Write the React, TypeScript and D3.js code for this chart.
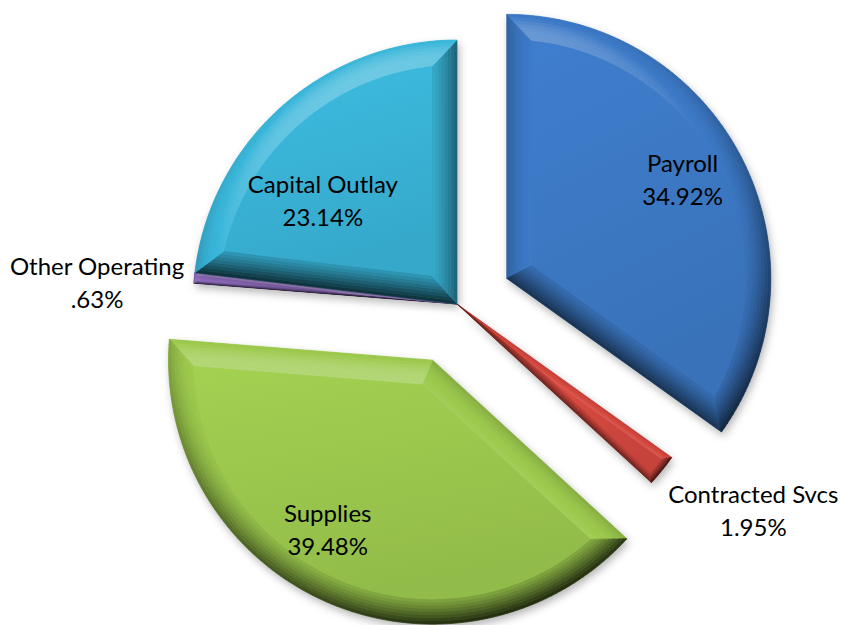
import React from 'react';
import * as d3 from 'd3';

const categories = ['Payroll', 'Contracted Svcs', 'Supplies', 'Other Operating', 'Capital Outlay'];
const shares = [34.92, 1.95, 39.48, 0.63, 23.14];
const shareLabels = ['34.92%', '1.95%', '39.48%', '.63%', '23.14%'];

const colors = ['#3D7AC7', '#D4483F', '#9DCA4E', '#9470C4', '#3AB6DA'];
// how far each slice is pulled out, as a fraction of the radius
const explode = [0.212, 0, 0.232, 0, 0];
// label spot: [fraction across the slice angle, fraction of radius] measured from the slice tip
const labelAt = [[0.482, 0.765], [-0.1, 1.368], [0.558, 0.754], [-0.48, 1.366], [0.374, 0.644]];

const W = 841, H = 625;
const cx = 457, cy = 304, R = 264, BEVEL = 25, BANDS = 8;
const FONT = 'Lato, "Open Sans", sans-serif';
const FONT_SIZE = 24, LINE = 33;

const dir = (t: number): [number, number] => [Math.sin(t), -Math.cos(t)];
const L3 = (() => { const v = [-0.2, -0.6, 0.78]; const l = Math.hypot(v[0], v[1], v[2]); return v.map(x => x / l); })();

// rounded bevel: surface tilts from steep at the rim to fairly flat at the inner edge
function shade(base: string, n: [number, number], u: number) {
  const alpha = (10 + 52 * u) * Math.PI / 180;
  const c = Math.cos(alpha);
  const b = n[0] * c * L3[0] + n[1] * c * L3[1] + Math.sin(alpha) * L3[2];
  const diff = b - L3[2];
  return diff > 0
    ? d3.interpolateRgb(base, '#ffffff')(Math.min(1, diff * 1.2))
    : d3.interpolateRgb(base, '#000000')(Math.min(0.85, Math.pow(-diff, 1.3) * 0.6));
}

function wrap(a: number) {
  while (a > Math.PI) a -= 2 * Math.PI;
  while (a < -Math.PI) a += 2 * Math.PI;
  return a;
}

const lerp = (p: number[], q: number[], u: number) => [p[0] + (q[0] - p[0]) * u, p[1] + (q[1] - p[1]) * u];
const poly = (pts: number[][]) => 'M' + pts.map(p => p[0].toFixed(2) + ',' + p[1].toFixed(2)).join('L') + 'Z';

function Slice({ a0, a1, ax, ay, color, id }: any) {
  const h = (a1 - a0) / 2, mid = a0 + h;
  const w = Math.min(BEVEL, R * Math.sin(h) * 0.45);
  const s = w / Math.sin(h);
  const [ux, uy] = dir(mid);
  const ix = ax + ux * s, iy = ay + uy * s;
  const r2 = R - w;
  const t = -s * Math.cos(h) + Math.sqrt(r2 * r2 - w * w);
  const d0 = dir(a0), d1 = dir(a1);
  const A = [ax, ay], Ai = [ix, iy];
  const p0 = [ax + R * d0[0], ay + R * d0[1]];
  const p1 = [ax + R * d1[0], ay + R * d1[1]];
  const q0 = [ix + t * d0[0], iy + t * d0[1]];
  const q1 = [ix + t * d1[0], iy + t * d1[1]];
  const phi0 = a0 + wrap(Math.atan2(q0[0] - ax, -(q0[1] - ay)) - a0);
  const phi1 = a1 + wrap(Math.atan2(q1[0] - ax, -(q1[1] - ay)) - a1);

  const outer = d3.arc<any>().innerRadius(0).outerRadius(R)({ startAngle: a0, endAngle: a1 } as any) || '';

  const face = d3.path();
  face.moveTo(ix, iy);
  face.lineTo(q0[0], q0[1]);
  face.arc(ax, ay, r2, phi0 - Math.PI / 2, phi1 - Math.PI / 2, false);
  face.closePath();

  const facets: { d: string; fill: string }[] = [];
  const edge = (P: number[], Q: number[], nrm: [number, number]) => {
    for (let b = 0; b < BANDS; b++) {
      const u0 = b / BANDS, u1 = (b + 1) / BANDS;
      facets.push({
        d: poly([lerp(A, Ai, u0), lerp(P, Q, u0), lerp(P, Q, u1), lerp(A, Ai, u1)]),
        fill: shade(color, nrm, (u0 + u1) / 2),
      });
    }
  };
  edge(p0, q0, dir(a0 - Math.PI / 2));
  edge(p1, q1, dir(a1 + Math.PI / 2));
  const n = Math.max(4, Math.ceil((a1 - a0) / 0.02));
  for (let k = 0; k < n; k++) {
    const ta = a0 + (a1 - a0) * k / n, tb = a0 + (a1 - a0) * (k + 1) / n;
    const fa = phi0 + (phi1 - phi0) * k / n, fb = phi0 + (phi1 - phi0) * (k + 1) / n;
    const oa = dir(ta), ob = dir(tb), ia = dir(fa), ib = dir(fb);
    const Oa = [ax + R * oa[0], ay + R * oa[1]], Ob = [ax + R * ob[0], ay + R * ob[1]];
    const Ia = [ax + r2 * ia[0], ay + r2 * ia[1]], Ib = [ax + r2 * ib[0], ay + r2 * ib[1]];
    for (let b = 0; b < BANDS; b++) {
      const u0 = b / BANDS, u1 = (b + 1) / BANDS;
      facets.push({
        d: poly([lerp(Oa, Ia, u0), lerp(Ob, Ib, u0), lerp(Ob, Ib, u1), lerp(Oa, Ia, u1)]),
        fill: shade(color, dir((ta + tb) / 2), (u0 + u1) / 2),
      });
    }
  }

  return (
    <g>
      <path d={outer} transform={`translate(${ax},${ay})`} fill={color} filter="url(#shadow)" />
      {facets.map((f, i) => (
        <path key={i} d={f.d} fill={f.fill} stroke={f.fill} strokeWidth={0.7} strokeLinejoin="round" />
      ))}
      <path d={face.toString()} fill={`url(#face${id})`} />
    </g>
  );
}

export default function App() {
  const pie = d3.pie<number>().sort(null).value(d => d);
  const arcs = pie(shares);

  const slices = arcs.map((a, i) => {
    const [ux, uy] = dir((a.startAngle + a.endAngle) / 2);
    const off = explode[i] * R;
    return { a0: a.startAngle, a1: a.endAngle, ax: cx + ux * off, ay: cy + uy * off };
  });

  return (
    <svg width={W} height={H} style={{ position: 'absolute', left: 0, top: 0 }} fontFamily={FONT}>
      <defs>
        <filter id="shadow" x="-20%" y="-20%" width="140%" height="140%">
          <feDropShadow dx="2" dy="4" stdDeviation="4" floodColor="#000" floodOpacity="0.3" />
        </filter>
        {colors.map((c, i) => (
          <linearGradient key={i} id={`face${i}`} x1="0" y1="0" x2="0.3" y2="1">
            <stop offset="0" stopColor={d3.color(c)!.brighter(0.1).formatHex()} />
            <stop offset="1" stopColor={d3.color(c)!.darker(0.2).formatHex()} />
          </linearGradient>
        ))}
      </defs>
      <rect width={W} height={H} fill="#fff" />
      {slices.map((s, i) => (
        <Slice key={categories[i]} {...s} color={colors[i]} id={i} />
      ))}
      {slices.map((s, i) => {
        const ang = s.a0 + labelAt[i][0] * (s.a1 - s.a0);
        const [dx, dy] = dir(ang);
        const x = s.ax + dx * labelAt[i][1] * R;
        const y = s.ay + dy * labelAt[i][1] * R;
        return (
          <text key={i} x={x} textAnchor="middle" fontSize={FONT_SIZE} fill="#000">
            <tspan x={x} y={y - LINE / 2} dominantBaseline="central">{categories[i]}</tspan>
            <tspan x={x} y={y + LINE / 2} dominantBaseline="central">{shareLabels[i]}</tspan>
          </text>
        );
      })}
    </svg>
  );
}
